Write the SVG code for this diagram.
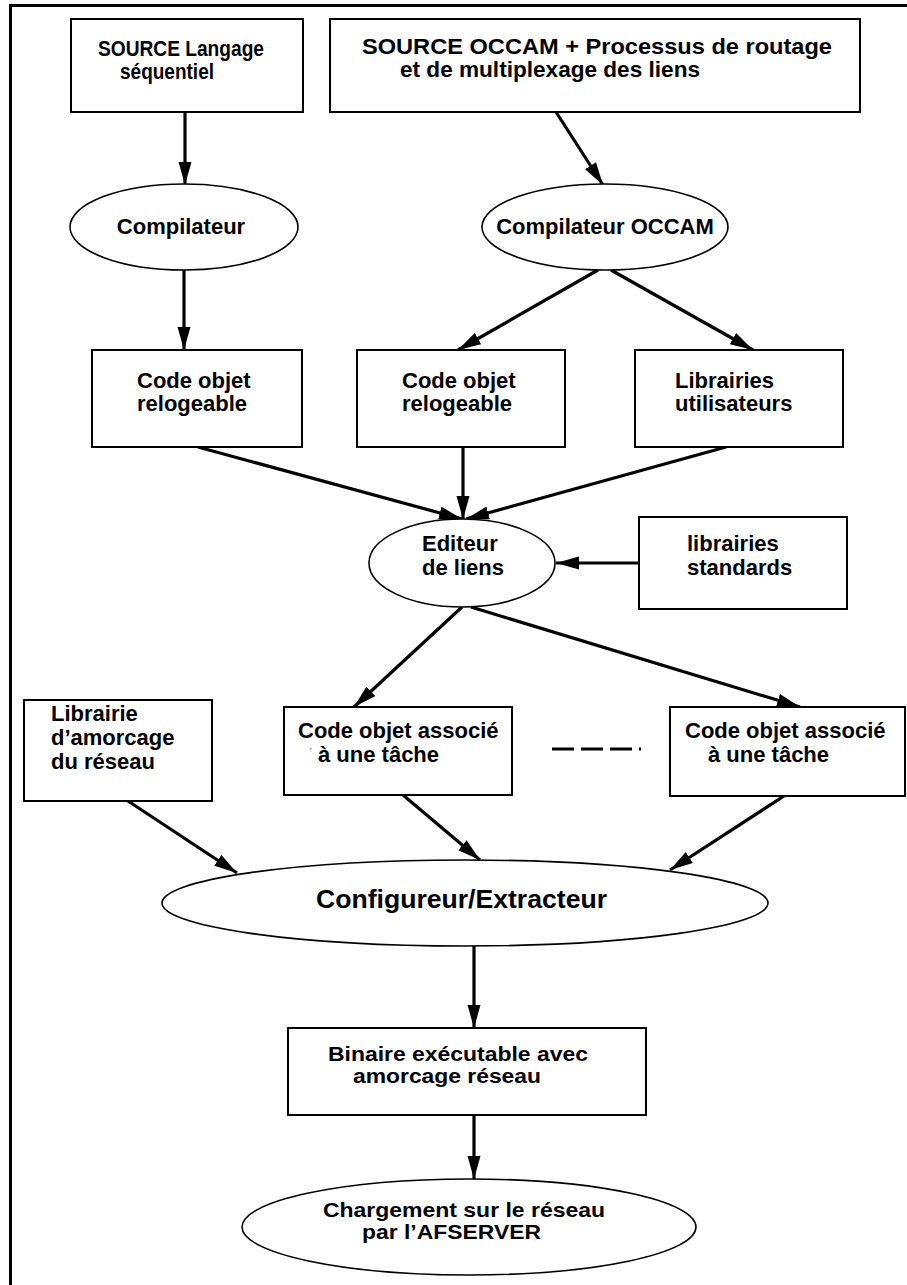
<svg xmlns="http://www.w3.org/2000/svg" width="907" height="1285" viewBox="0 0 907 1285">
<style>
.t{font-family:"Liberation Sans",Arial,sans-serif;font-weight:bold;font-size:22px;fill:#000}
.b{fill:#fff;stroke:#000;stroke-width:2}
.e{fill:#fff;stroke:#000;stroke-width:1.6}
.c{stroke:#000;stroke-width:3.2;fill:none;marker-end:url(#ah)}
</style>
<defs>
<marker id="ah" markerUnits="userSpaceOnUse" markerWidth="26" markerHeight="16" refX="23" refY="6.5" orient="auto">
<path d="M0,0 L23,6.5 L0,13 z" fill="#000"/>
</marker>
</defs>
<rect width="907" height="1285" fill="#fff"/>
<g id="frame">
<line x1="9" y1="5.5" x2="907" y2="5.5" stroke="#000" stroke-width="3"/>
<line x1="10.5" y1="4" x2="10.5" y2="1285" stroke="#000" stroke-width="3"/>
</g>
<g id="connectors">
<line class="c" x1="185" y1="112" x2="185" y2="185"/>
<line class="c" x1="556" y1="112" x2="603" y2="185"/>
<line class="c" x1="184" y1="270" x2="184" y2="350"/>
<line class="c" x1="598" y1="270" x2="458" y2="350"/>
<line class="c" x1="611" y1="270" x2="753" y2="350"/>
<line class="c" x1="198" y1="447" x2="462" y2="519"/>
<line class="c" x1="463" y1="447" x2="463" y2="519"/>
<line class="c" x1="726" y1="447" x2="466" y2="519"/>
<line class="c" x1="639" y1="563" x2="556" y2="563"/>
<line class="c" x1="462" y1="607" x2="354" y2="707"/>
<line class="c" x1="471" y1="607" x2="800" y2="707"/>
<line class="c" x1="128" y1="801" x2="237" y2="873"/>
<line class="c" x1="403" y1="795" x2="480" y2="860"/>
<line class="c" x1="784" y1="796" x2="670" y2="870"/>
<line class="c" x1="474" y1="946" x2="474" y2="1028"/>
<line class="c" x1="474" y1="1115" x2="474" y2="1179"/>
<line x1="552" y1="749" x2="641" y2="749" stroke="#000" stroke-width="3" stroke-dasharray="22 7"/>
</g>
<g id="n1"><rect class="b" x="71" y="19" width="232" height="93"/>
<text class="t" x="98" y="56" textLength="166" lengthAdjust="spacingAndGlyphs">SOURCE Langage</text><text class="t" x="120" y="79" textLength="94" lengthAdjust="spacingAndGlyphs">séquentiel</text></g>
<g id="n2"><rect class="b" x="330" y="19" width="530" height="93"/>
<text class="t" x="362" y="54" textLength="470" lengthAdjust="spacingAndGlyphs">SOURCE OCCAM + Processus de routage</text><text class="t" x="400" y="77" textLength="300" lengthAdjust="spacingAndGlyphs">et de multiplexage des liens</text></g>
<g id="n3"><ellipse class="e" cx="184" cy="227" rx="114" ry="43"/>
<text class="t" x="181" y="234" text-anchor="middle">Compilateur</text></g>
<g id="n4"><ellipse class="e" cx="605" cy="227" rx="123" ry="43"/>
<text class="t" x="605" y="234" text-anchor="middle">Compilateur OCCAM</text></g>
<g id="n5"><rect class="b" x="92" y="350" width="210" height="97"/>
<text class="t" x="137" y="388">Code objet</text><text class="t" x="137" y="411">relogeable</text></g>
<g id="n6"><rect class="b" x="357" y="350" width="208" height="97"/>
<text class="t" x="402" y="388">Code objet</text><text class="t" x="402" y="411">relogeable</text></g>
<g id="n7"><rect class="b" x="635" y="350" width="208" height="97"/>
<text class="t" x="675" y="388">Librairies</text><text class="t" x="675" y="411">utilisateurs</text></g>
<g id="n8"><ellipse class="e" cx="462" cy="563" rx="93" ry="44"/>
<text class="t" x="422" y="551">Editeur</text><text class="t" x="422" y="575">de liens</text></g>
<g id="n9"><rect class="b" x="639" y="517" width="208" height="92"/>
<text class="t" x="687" y="551">librairies</text><text class="t" x="687" y="575">standards</text></g>
<g id="n10"><rect class="b" x="24" y="700" width="188" height="101"/>
<text class="t" x="51" y="721">Librairie</text><text class="t" x="51" y="745">d’amorcage</text><text class="t" x="51" y="769">du réseau</text></g>
<g id="n11"><rect class="b" x="284" y="707" width="228" height="88"/>
<text class="t" x="298" y="738">Code objet associé</text><rect x="310" y="748" width="1.5" height="1.5" fill="#888"/><text class="t" x="318" y="762">à une tâche</text></g>
<g id="n12"><rect class="b" x="670" y="707" width="235" height="89"/>
<text class="t" x="685" y="738">Code objet associé</text><text class="t" x="708" y="762">à une tâche</text></g>
<g id="n13"><ellipse class="e" cx="465" cy="903" rx="303" ry="43"/>
<text class="t" x="316" y="908" style="font-size:26px" textLength="291" lengthAdjust="spacingAndGlyphs">Configureur/Extracteur</text></g>
<g id="n14"><rect class="b" x="288" y="1028" width="358" height="87"/>
<text class="t" x="328" y="1061" style="font-size:20px" textLength="260" lengthAdjust="spacingAndGlyphs">Binaire exécutable avec</text><text class="t" x="353" y="1083" style="font-size:20px" textLength="188" lengthAdjust="spacingAndGlyphs">amorcage réseau</text></g>
<g id="n15"><ellipse class="e" cx="469" cy="1227" rx="227" ry="48"/>
<text class="t" x="323" y="1217" style="font-size:21px" textLength="282" lengthAdjust="spacingAndGlyphs">Chargement sur le réseau</text><text class="t" x="362" y="1239" style="font-size:21px" textLength="179" lengthAdjust="spacingAndGlyphs">par l’AFSERVER</text></g>
</svg>
